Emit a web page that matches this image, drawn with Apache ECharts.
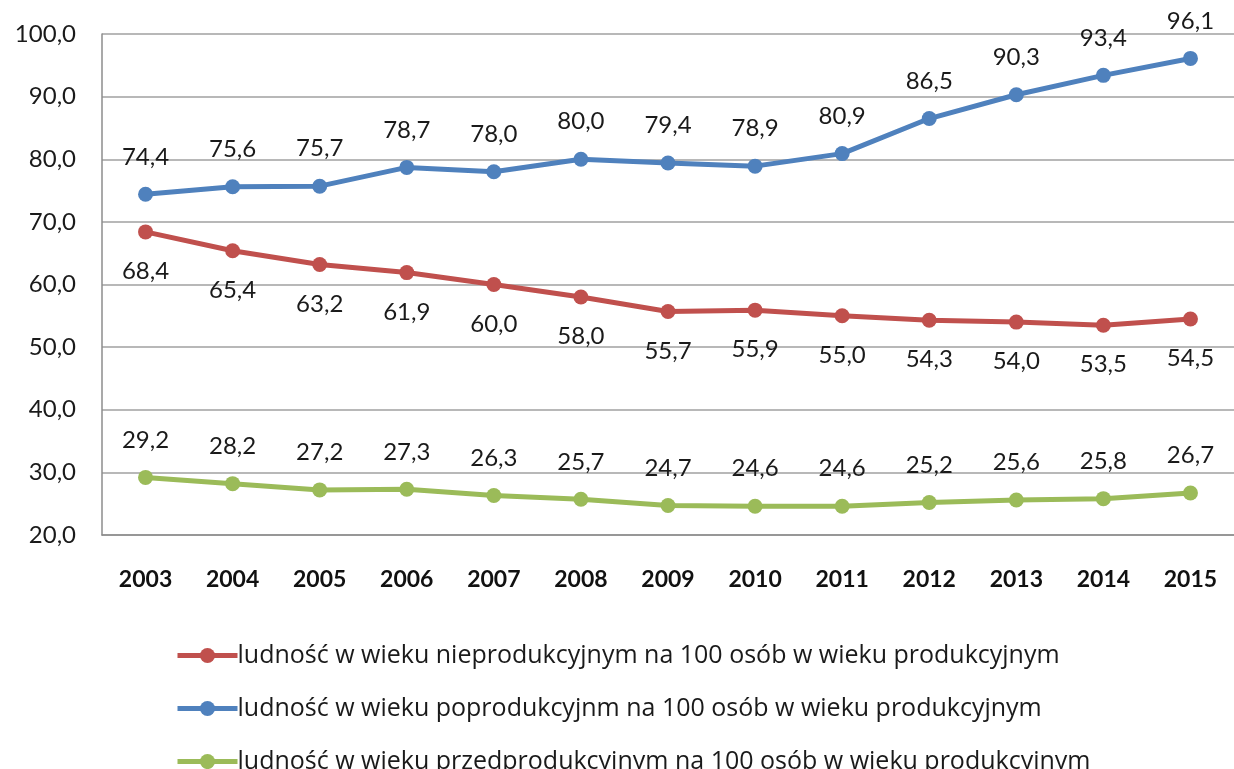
<!DOCTYPE html>
<html>
<head>
<meta charset="utf-8">
<script src="https://cdn.jsdelivr.net/npm/echarts@6/dist/echarts.min.js"></script>
<style>
  html, body { margin: 0; padding: 0; background: #fff; }
  #chart { width: 1234px; height: 769px; }
</style>
</head>
<body>
<div id="chart"></div>
<script>
const years = ["2003", "2004", "2005", "2006", "2007", "2008", "2009", "2010", "2011", "2012", "2013", "2014", "2015"];
const nieprodukcyjny = [68.4, 65.4, 63.2, 61.9, 60.0, 58.0, 55.7, 55.9, 55.0, 54.3, 54.0, 53.5, 54.5];
const poprodukcyjny = [74.4, 75.6, 75.7, 78.7, 78.0, 80.0, 79.4, 78.9, 80.9, 86.5, 90.3, 93.4, 96.1];
const przedprodukcyjny = [29.2, 28.2, 27.2, 27.3, 26.3, 25.7, 24.7, 24.6, 24.6, 25.2, 25.6, 25.8, 26.7];

const font = "Lato, 'Open Sans', sans-serif";
const legendFont = "'Open Sans', Lato, sans-serif";
const fmt = (v) => v.toFixed(1).replace(".", ",");

function makeSeries(name, data, color, pos, dist) {
  return {
    name: name,
    type: "line",
    data: data,
    symbol: "circle",
    symbolSize: 15,
    lineStyle: { width: 5, color: color },
    itemStyle: { color: color },
    label: {
      show: true,
      position: pos,
      distance: dist,
      color: "#1a1a1a",
      fontFamily: font,
      fontSize: 24,
      formatter: (p) => fmt(p.value),
    },
    emphasis: { disabled: true },
  };
}

const chart = echarts.init(document.getElementById("chart"));
chart.setOption({
  backgroundColor: "#fff",
  animation: false,
  grid: { left: 102, top: 34, width: 1143, height: 501 },
  legend: {
    orient: "vertical",
    left: 170,
    top: 638,
    height: 200,
    itemWidth: 60,
    itemHeight: 19,
    itemGap: 28,
    lineStyle: { width: 5 },
    textStyle: { fontFamily: legendFont, fontSize: 25, color: "#1a1a1a", padding: [0, 0, 0, -5] },
    data: [
      "ludność w wieku nieprodukcyjnym na 100 osób w wieku produkcyjnym",
      "ludność w wieku poprodukcyjnm na 100 osób w wieku produkcyjnym",
      "ludność w wieku przedprodukcyjnym na 100 osób w wieku produkcyjnym",
    ],
  },
  xAxis: {
    type: "category",
    data: years,
    boundaryGap: true,
    axisLine: { lineStyle: { color: "#8c8c8c", width: 1.5 } },
    axisTick: { show: false },
    axisLabel: { color: "#111", fontFamily: font, fontSize: 23, fontWeight: "bold", margin: 33 },
  },
  yAxis: {
    type: "value",
    min: 20,
    max: 100,
    interval: 10,
    axisLine: { show: true, lineStyle: { color: "#8c8c8c", width: 1.5 } },
    axisTick: { show: false },
    splitLine: { lineStyle: { color: "#a0a0a0", width: 1.5 } },
    axisLabel: { color: "#1a1a1a", fontFamily: font, fontSize: 24, margin: 26, formatter: (v) => fmt(v) },
  },
  series: [
    makeSeries("ludność w wieku nieprodukcyjnym na 100 osób w wieku produkcyjnym", nieprodukcyjny, "#C0504D", "bottom", 20),
    makeSeries("ludność w wieku poprodukcyjnm na 100 osób w wieku produkcyjnym", poprodukcyjny, "#4F81BD", "top", 18),
    makeSeries("ludność w wieku przedprodukcyjnym na 100 osób w wieku produkcyjnym", przedprodukcyjny, "#9BBB59", "top", 18),
  ],
});
</script>
</body>
</html>
